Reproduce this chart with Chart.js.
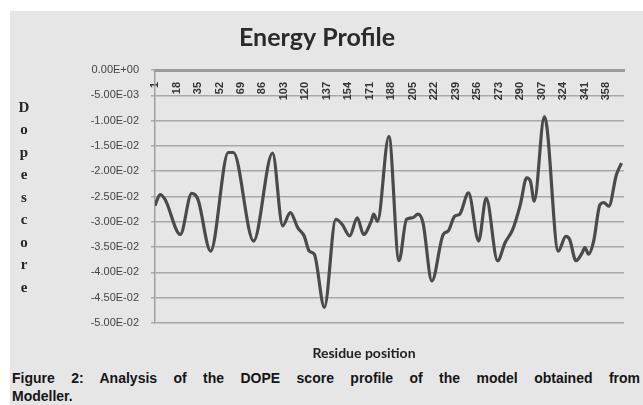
<!DOCTYPE html>
<html><head><meta charset="utf-8">
<script src="https://cdn.jsdelivr.net/npm/chart.js@4/dist/chart.umd.min.js"></script>
<style>
html,body{margin:0;padding:0;background:#fff;width:643px;height:405px;overflow:hidden;}
#frame{position:absolute;left:10px;top:11px;width:633px;height:394px;background:#e6e6e6;}
#wrap{position:absolute;left:0;top:0;width:633px;height:352px;}
#xtitle{position:absolute;left:254px;top:333px;width:200px;text-align:center;font:bold 14px Lato,"Liberation Sans",sans-serif;color:#222;}
#caption{position:absolute;left:2px;top:358px;width:628px;font:bold 14px "Liberation Sans",Arial,sans-serif;line-height:18px;color:#151515;}
#caption .l1{text-align:justify;text-align-last:justify;}
</style></head><body>
<div id="frame">
 <div id="wrap"><canvas id="c"></canvas></div>
 <div id="xtitle">Residue position</div>
 <div id="caption"><div class="l1">Figure 2: Analysis of the DOPE score profile of the model obtained from</div><div>Modeller.</div></div>
</div>
<script>
const chartTitle = 'Energy Profile';
const yTitleLetters = ['D','o','p','e','s','c','o','r','e'];
const xTickLabels = [1,18,35,52,69,86,103,120,137,154,171,188,205,222,239,256,273,290,307,324,341,358];
const residues = [1,5,9,21,30,35,45,59,63,79,94,102,108,114,119,123,127,135,144,149,155,161,166,172,174,177,186,194,200,205,209,213,220,229,233,238,242,249,257,263,272,278,284,290,295,298,301,309,311,320,326,329,334,339,341,344,348,353,356,360,366,370];
const dopeScores = [-0.0268,-0.0246,-0.0256,-0.0325,-0.0244,-0.0256,-0.0358,-0.0163,-0.0163,-0.0338,-0.0164,-0.0308,-0.0282,-0.0312,-0.0328,-0.0358,-0.0364,-0.0469,-0.0295,-0.0305,-0.0328,-0.0292,-0.0325,-0.0299,-0.0285,-0.0299,-0.0131,-0.0377,-0.0295,-0.0292,-0.0285,-0.0302,-0.0417,-0.0325,-0.0318,-0.0289,-0.0285,-0.0243,-0.0338,-0.0253,-0.0377,-0.0341,-0.0315,-0.0266,-0.0213,-0.0220,-0.0259,-0.0092,-0.0112,-0.0358,-0.0329,-0.0335,-0.0377,-0.0361,-0.0351,-0.0364,-0.0338,-0.0266,-0.0262,-0.0269,-0.0207,-0.0184];

function sci(v){
  if (Math.abs(v) < 1e-12) return '0.00E+00';
  const e = Math.floor(Math.log10(Math.abs(v)) + 1e-9);
  const m = v / Math.pow(10, e);
  return m.toFixed(2) + 'E' + (e < 0 ? '-' : '+') + String(Math.abs(e)).padStart(2, '0');
}

const yTitlePlugin = {
  id: 'yTitle',
  afterDraw(chart){
    const ctx = chart.ctx;
    ctx.save();
    ctx.font = 'bold 15px "Liberation Serif", "DejaVu Serif", serif';
    ctx.fillStyle = '#262626';
    ctx.textAlign = 'center';
    ctx.textBaseline = 'middle';
    yTitleLetters.forEach((ch, i) => ctx.fillText(ch, 14, 97 + i * 22.5));
    ctx.restore();
  }
};

new Chart(document.getElementById('c'), {
  type: 'line',
  data: {
    datasets: [{
      data: residues.map((r, i) => ({x: r, y: dopeScores[i]})),
      borderColor: '#4a4a4a',
      borderWidth: 3.2,
      pointRadius: 0,
      cubicInterpolationMode: 'monotone',
      fill: false
    }]
  },
  options: {
    responsive: true,
    maintainAspectRatio: false,
    animation: false,
    layout: {padding: {left: 0, right: 19, top: 0, bottom: 40}},
    plugins: {
      legend: {display: false},
      tooltip: {enabled: false},
      title: {
        display: true,
        text: chartTitle,
        color: '#2a2a2a',
        font: {family: 'Lato, "Open Sans", sans-serif', size: 25, weight: 'bold'},
        padding: {top: 12, bottom: 17}
      }
    },
    scales: {
      x: {
        type: 'linear',
        min: 1,
        max: 372,
        position: {y: 0},
        afterBuildTicks(scale){ scale.ticks = xTickLabels.map(v => ({value: v})); },
        grid: {display: true, drawOnChartArea: false, drawTicks: true, tickLength: 10, tickColor: 'rgba(0,0,0,0)'},
        border: {display: true, color: '#9a9a9a', width: 3},
        ticks: {
          autoSkip: false,
          maxRotation: 90,
          minRotation: 90,
          padding: 2,
          color: '#333',
          font: {family: '"Liberation Sans", Arial, sans-serif', size: 11, weight: 'bold'},
          callback: (v) => String(v)
        }
      },
      y: {
        min: -0.05,
        max: 0,
        afterFit(scale){ scale.width = 145; },
        grid: {color: '#a8a8a8', lineWidth: 1.5, tickLength: 4, tickColor: '#a8a8a8'},
        border: {display: true, color: '#a0a0a0', width: 1.5},
        ticks: {
          stepSize: 0.005,
          padding: 12,
          color: '#444',
          font: {family: '"Liberation Sans", Arial, sans-serif', size: 11},
          callback: (v) => sci(v)
        }
      }
    }
  },
  plugins: [yTitlePlugin]
});
</script>
</body></html>
